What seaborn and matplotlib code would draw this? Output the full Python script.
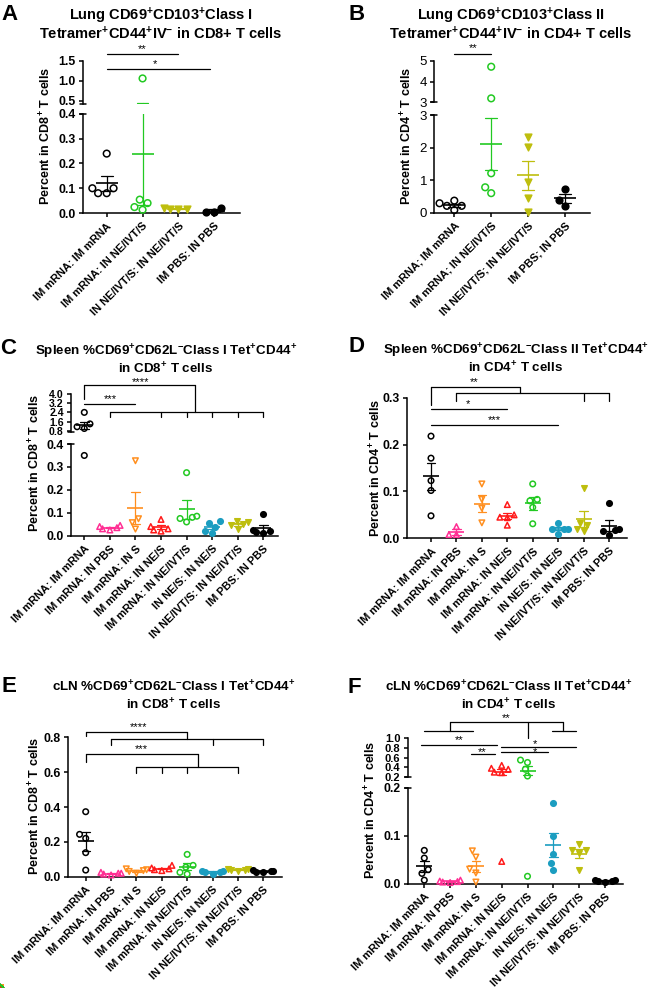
import numpy as np
import pandas as pd
import seaborn as sns
import matplotlib.pyplot as plt
from matplotlib.transforms import blended_transform_factory

# ---------------- data ----------------
groups_a = ["IM mRNA: IM mRNA", "IM mRNA: IN NE/IVT/S",
            "IN NE/IVT/S: IN NE/IVT/S", "IM PBS: IN PBS"]
groups_b = ["IM mRNA; IM mRNA", "IM mRNA; IN NE/IVT/S",
            "IN NE/IVT/S; IN NE/IVT/S", "IM PBS; IN PBS"]
groups_8 = ["IM mRNA: IM mRNA", "IM mRNA: IN PBS", "IM mRNA: IN S",
            "IM mRNA: IN NE/S", "IM mRNA: IN NE/IVT/S", "IN NE/S: IN NE/S",
            "IN NE/IVT/S: IN NE/IVT/S", "IM PBS: IN PBS"]

vals_a = [[0.24, 0.10, 0.10, 0.08, 0.08],
          [1.06, 0.04, 0.013, 0.054, 0.024],
          [0.018, 0.015, 0.02, 0.016],
          [0.022, 0.004, 0.003]]
vals_b = [[0.29, 0.08, 0.21, 0.21, 0.37],
          [4.71, 3.19, 1.21, 0.78, 0.60],
          [2.33, 2.02, 0.95, 0.44, 0.03],
          [0.72, 0.39, 0.21]]
vals_c = [[2.4, 1.4, 1.15, 1.0, 0.35],
          [0.045, 0.04, 0.035, 0.03, 0.025],
          [0.327, 0.074, 0.057, 0.029],
          [0.071, 0.04, 0.03, 0.025, 0.02],
          [0.275, 0.085, 0.075, 0.06, 0.08],
          [0.065, 0.055, 0.04, 0.02, 0.012],
          [0.065, 0.06, 0.045, 0.03, 0.05],
          [0.095, 0.025, 0.02, 0.015, 0.01]]
vals_d = [[0.218, 0.171, 0.123, 0.102, 0.048],
          [0.025, 0.008, 0.008],
          [0.116, 0.083, 0.064, 0.033],
          [0.072, 0.05, 0.045, 0.044, 0.028],
          [0.116, 0.083, 0.08, 0.066, 0.031],
          [0.033, 0.02, 0.019, 0.02, 0.01],
          [0.107, 0.033, 0.028, 0.02, 0.015],
          [0.075, 0.02, 0.017, 0.015, 0.007]]
vals_e = [[0.373, 0.243, 0.22, 0.138, 0.038],
          [0.025, 0.02, 0.015, 0.01, 0.02],
          [0.045, 0.04, 0.035, 0.03, 0.02],
          [0.065, 0.05, 0.045, 0.04, 0.035],
          [0.128, 0.065, 0.055, 0.025, 0.015],
          [0.035, 0.03, 0.028, 0.025, 0.015],
          [0.045, 0.042, 0.04, 0.038, 0.035],
          [0.04, 0.032, 0.03, 0.028, 0.025]]
vals_f = [[0.069, 0.053, 0.029, 0.021, 0.007],
          [0.007, 0.005, 0.004, 0.003, 0.002],
          [0.068, 0.055, 0.03, 0.022, 0.003],
          [0.44, 0.38, 0.36, 0.30, 0.29, 0.046],
          [0.55, 0.50, 0.36, 0.22, 0.015],
          [0.168, 0.10, 0.0625, 0.042, 0.028],
          [0.082, 0.069, 0.069, 0.064, 0.028],
          [0.008, 0.007, 0.006, 0.005, 0.003]]

# ---------------- styles ----------------
BLACK, PINK, ORANGE, RED = "#000000", "#FF2E93", "#FF8F1F", "#FF1A1A"
GREEN, TEAL, OLIVE = "#22C922", "#1B9DC0", "#BEBE0E"
style_8 = [(BLACK, "o", False), (PINK, "^", False), (ORANGE, "v", False),
           (RED, "^", False), (GREEN, "o", False), (TEAL, "o", True),
           (OLIVE, "v", True), (BLACK, "o", True)]
style_4 = [style_8[0], style_8[4], style_8[6], style_8[7]]

sns.set_theme(style="ticks")
plt.rcParams["font.family"] = ["Liberation Sans", "DejaVu Sans"]
plt.rcParams.update({
    "mathtext.fontset": "custom",
    "mathtext.rm": "Liberation Sans:bold",
    "mathtext.it": "Liberation Sans:bold",
    "mathtext.bf": "Liberation Sans:bold",
    "mathtext.default": "bf",
    "axes.linewidth": 1.1,
    "axes.edgecolor": "black",
    "xtick.major.width": 1.1,
    "ytick.major.width": 1.1,
    "xtick.major.size": 3.2,
    "ytick.major.size": 3.2,
    "xtick.color": "black",
    "ytick.color": "black",
    "text.color": "black",
})

W, H = 650, 988
fig = plt.figure(figsize=(W / 100, H / 100), dpi=100)


def fy(y):
    return 1 - y / H


def make_panel(groups, vals, styles, x0, dx, left, right, segs, fmt,
               tickweight="bold", tickfs=8.8, mean_pt=12.2, size=4.0):
    df = pd.DataFrame({"group": np.repeat(groups, [len(v) for v in vals]),
                       "value": np.concatenate(vals)})
    pal = {g: s[0] for g, s in zip(groups, styles)}
    xlim = ((left - x0) / dx, (right - x0) / dx)
    axes = []
    for i, seg in enumerate(segs):
        top, bottom, lo, hi, ticks = seg[:5]
        fs = seg[5] if len(seg) > 5 else tickfs
        ax = fig.add_axes([left / W, 1 - bottom / H,
                           (right - left) / W, (bottom - top) / H])
        ax.patch.set_alpha(0)
        for g, v, (c, m, filled) in zip(groups, vals, styles):
            v = [y for y in v if lo <= y <= hi]
            if v:
                sns.swarmplot(x=[g] * len(v), y=v, order=groups, ax=ax,
                              color=c, marker=m, size=size,
                              facecolors=c if filled else "none",
                              edgecolor=c, linewidth=1.1,
                              clip_on=False, zorder=3)
        sns.pointplot(data=df, x="group", y="value", hue="group",
                      order=groups, hue_order=groups, palette=pal,
                      errorbar="se", markers="_", linestyles="none",
                      markersize=mean_pt, markeredgewidth=1.2,
                      capsize=0.33, err_kws={"linewidth": 0.9},
                      legend=False, ax=ax, zorder=4)
        ax.set_ylim(lo, hi)
        ax.set_xlim(*xlim)
        ax.set_yticks(ticks)
        ax.set_yticklabels([fmt % t for t in ticks], fontsize=fs,
                           fontweight=tickweight)
        ax.tick_params(axis="y", pad=2)
        ax.set_xlabel("")
        ax.set_ylabel("")
        sns.despine(ax=ax)
        dxa = 3.0 / (right - left)
        if i == len(segs) - 1:
            ax.set_xticks(range(len(groups)))
            ax.set_xticklabels(groups, rotation=45, ha="right",
                               rotation_mode="anchor", fontsize=7.9,
                               fontweight="bold")
            ax.tick_params(axis="x", pad=2.5)
            if len(segs) > 1:
                ax.plot([-dxa, dxa], [1, 1], transform=ax.transAxes,
                        color="black", lw=1.1, clip_on=False)
        else:
            ax.spines["bottom"].set_visible(False)
            ax.tick_params(axis="x", bottom=False, labelbottom=False)
            ax.plot([-dxa, dxa], [0, 0], transform=ax.transAxes,
                    color="black", lw=1.1, clip_on=False)
        axes.append(ax)
    return axes


def brackets(ax, hlines, vlines, labels):
    tr = blended_transform_factory(ax.transData, fig.transFigure)
    kw = dict(color="black", lw=0.9, transform=tr, clip_on=False)
    for xa, xb, y in hlines:
        ax.plot([xa, xb], [fy(y), fy(y)], **kw)
    for x, ya, yb in vlines:
        ax.plot([x, x], [fy(ya), fy(yb)], **kw)
    for s, x, y in labels:
        ax.text(x, fy(y + 5.5), s, transform=tr, ha="center",
                va="baseline", fontsize=8)


def titles(letter, lx, ly, lines, cx, ys, fs=10.5):
    fig.text(lx / W, fy(ly), letter, fontsize=16, fontweight="bold",
             ha="center", va="center")
    for t, y in zip(lines, ys):
        fig.text(cx / W, fy(y), t, fontsize=fs, fontweight="bold",
                 ha="center", va="center")


def ylabel(text, x, y):
    fig.text(x / W, fy(y), text, rotation=90, fontsize=9, fontweight="bold",
             ha="center", va="center")


# ---------------- panel A ----------------
titles("A", 10, 15, ["Lung CD69$^{+}$CD103$^{+}$Class I",
                     "Tetramer$^{+}$CD44$^{+}$IV$^{-}$ in CD8+ T cells"],
       161, [16, 33.5])
axA = make_panel(groups_a, vals_a, style_4, 106.7, 35.87, 82.7, 240,
                 [(60.7, 103.8, 0.43, 1.5, [0.5, 1.0, 1.5]),
                  (114, 213, 0, 0.4, [0, 0.1, 0.2, 0.3, 0.4])],
                 "%.1f", mean_pt=16, size=4.8)
ylabel("Percent in CD8$^{+}$ T cells", 45.7, 136)
brackets(axA[1], [(0, 2, 54), (0, 2.88, 69)], [],
         [("**", 0.98, 47), ("*", 1.35, 62)])

# ---------------- panel B ----------------
titles("B", 357, 15, ["Lung CD69$^{+}$CD103$^{+}$Class II",
                      "Tetramer$^{+}$CD44$^{+}$IV$^{-}$ in CD4+ T cells"],
       511, [16, 33.5])
axB = make_panel(groups_b, vals_b, style_4, 454.3, 36.9, 434.3, 590,
                 [(60.7, 102.3, 3, 5, [3, 4, 5]),
                  (115, 212.7, 0, 3, [0, 1, 2, 3])],
                 "%d", tickweight="normal", tickfs=9.5, mean_pt=16, size=4.8)
ylabel("Percent in CD4$^{+}$ T cells", 406.7, 136)
brackets(axB[1], [(0, 1, 54.3)], [], [("**", 0.5, 46)])

# ---------------- panel C ----------------
titles("C", 8.5, 348.5, ["Spleen %CD69$^{+}$CD62L$^{-}$Class I Tet$^{+}$CD44$^{+}$",
                         "in CD8$^{+}$ T cells"], 166, [351.5, 369], fs=9.6)
axC = make_panel(groups_8, vals_c, style_8, 84.3, 25.57, 71, 277.7,
                 [(394, 432.5, 0.65, 4.0, [0.8, 1.6, 2.4, 3.2, 4.0], 7.6),
                  (444, 535.7, 0, 0.4, [0, 0.1, 0.2, 0.3, 0.4])],
                 "%.1f")
ylabel("Percent in CD8$^{+}$ T cells", 35, 463)
brackets(axC[1],
         [(0, 4.33, 385), (0, 2, 404), (1, 7, 412.3)],
         [(0, 385, 399.3), (4.33, 385, 412.3)]
         + [(k, 412.3, 417.3) for k in [1, 3, 4, 5, 6, 7]],
         [("****", 2.18, 379.3), ("***", 1.0, 396.7)])

# ---------------- panel D ----------------
titles("D", 357, 347, ["Spleen %CD69$^{+}$CD62L$^{-}$Class II Tet$^{+}$CD44$^{+}$",
                       "in CD4$^{+}$ T cells"], 516, [350.7, 368.3], fs=9.6)
axD = make_panel(groups_8, vals_d, style_8, 431, 25.43, 407.3, 626.7,
                 [(397.7, 538.3, 0, 0.3, [0, 0.1, 0.2, 0.3])], "%.1f")
ylabel("Percent in CD4$^{+}$ T cells", 376, 468)
brackets(axD[0],
         [(0, 3.5, 386.7), (1, 7, 393.3), (0, 3, 409.3), (0, 5, 425)],
         [(0, 386.7, 405), (3.5, 386.7, 393.3)]
         + [(k, 393.3, 400.7) for k in [1, 6, 7]],
         [("**", 1.7, 379.3), ("*", 1.47, 401.7), ("***", 2.49, 417.3)])

# ---------------- panel E ----------------
titles("E", 8.5, 686.5, ["cLN %CD69$^{+}$CD62L$^{-}$Class I Tet$^{+}$CD44$^{+}$",
                         "in CD8$^{+}$ T cells"], 174, [686.7, 705], fs=9.6)
axE = make_panel(groups_8, vals_e, style_8, 85.7, 25.37, 68.3, 281.7,
                 [(737.3, 876.7, 0, 0.8, [0, 0.2, 0.4, 0.6, 0.8])], "%.1f")
ylabel("Percent in CD8$^{+}$ T cells", 35, 806)
brackets(axE[0],
         [(0, 4, 731.7), (1, 7, 739.3), (0, 4.44, 754), (2, 6, 767.3)],
         [(0, 731.7, 736), (4, 731.7, 739.3), (0, 754, 761.7), (4.44, 754, 767.3)]
         + [(k, 739.3, 745) for k in [1, 5, 7]]
         + [(k, 767.3, 773.3) for k in [2, 3, 4, 6]],
         [("****", 2.07, 725), ("***", 2.2, 746.7)])

# ---------------- panel F ----------------
titles("F", 354, 687.5, ["cLN %CD69$^{+}$CD62L$^{-}$Class II Tet$^{+}$CD44$^{+}$",
                         "in CD4$^{+}$ T cells"], 508.5, [687.3, 705], fs=9.6)
axF = make_panel(groups_8, vals_f, style_8, 424.3, 25.8, 407.7, 623.3,
                 [(738.3, 777, 0.2, 1.0, [0.2, 0.4, 0.6, 0.8, 1.0], 8.0),
                  (787.5, 883.5, 0, 0.2, [0, 0.1, 0.2])], "%.1f")
ylabel("Percent in CD4$^{+}$ T cells", 371, 810)
brackets(axF[1],
         [(1, 5.39, 722.3), (0, 1.9, 731), (4.94, 5.87, 731),
          (-0.14, 2.83, 745), (1.8, 2.74, 754),
          (2.96, 5.87, 746.7), (2.96, 4.8, 751.7)],
         [(1, 722.3, 731), (4.0, 722.3, 738.3), (5.39, 722.3, 731)],
         [("**", 3.17, 716), ("**", 1.35, 737.7), ("**", 2.25, 749.3),
          ("*", 4.29, 741.8), ("*", 4.29, 750)])

fig.savefig("out.png", dpi=100)
